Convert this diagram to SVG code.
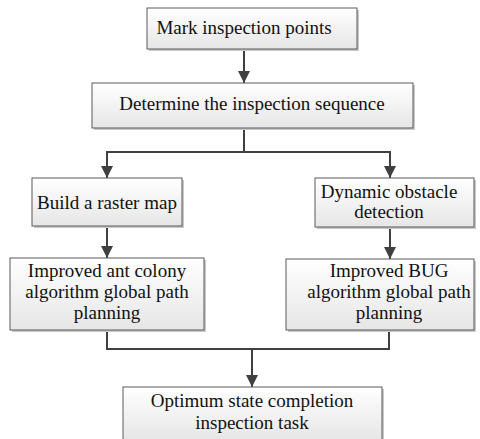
<svg xmlns="http://www.w3.org/2000/svg" width="480" height="439" viewBox="0 0 480 439">
<defs>
<linearGradient id="g" x1="0" y1="0" x2="0" y2="1">
<stop offset="0" stop-color="#ffffff"/>
<stop offset="1" stop-color="#e6e6e6"/>
</linearGradient>
<marker id="arr" markerWidth="12" markerHeight="14" refX="12" refY="6" orient="auto" markerUnits="userSpaceOnUse">
<path d="M0,0 L12,6 L0,12 Z" fill="#404040"/>
</marker>
</defs>
<style>
.box{fill:url(#g);stroke:#5a5a5a;stroke-width:1}
.sh{fill:#c8c8c8}
.t{font-family:'Liberation Serif','Times New Roman',Times,serif;font-size:19px;fill:#111;text-anchor:middle}
.c{fill:none;stroke:#404040;stroke-width:2}
</style>
<g id="connectors">
<path class="c" d="M244,49 V83" marker-end="url(#arr)"/>
<path class="c" d="M244,129 V152 H107 V178" marker-end="url(#arr)"/>
<path class="c" d="M244,152 H390 V178" marker-end="url(#arr)"/>
<path class="c" d="M107,226 V258" marker-end="url(#arr)"/>
<path class="c" d="M390,227 V259" marker-end="url(#arr)"/>
<path class="c" d="M107,330 V349 H389 V330"/>
<path class="c" d="M252,349 V387" marker-end="url(#arr)"/>
</g>
<g id="n1">
<rect class="sh" x="149" y="10" width="210" height="41"/>
<rect class="box" x="147" y="8" width="210" height="41"/>
<text class="t" x="244" y="34">Mark inspection points</text>
</g>
<g id="n2">
<rect class="sh" x="94" y="85" width="321" height="45"/>
<rect class="box" x="92" y="83" width="321" height="45"/>
<text class="t" x="252" y="110">Determine the inspection sequence</text>
</g>
<g id="n3">
<rect class="sh" x="34" y="180" width="150" height="48"/>
<rect class="box" x="32" y="178" width="150" height="48"/>
<text class="t" x="107" y="209">Build a raster map</text>
</g>
<g id="n4">
<rect class="sh" x="317" y="180" width="159" height="49"/>
<rect class="box" x="315" y="178" width="159" height="49"/>
<text class="t" x="389" y="198">Dynamic obstacle</text>
<text class="t" x="389" y="218">detection</text>
</g>
<g id="n5">
<rect class="sh" x="12" y="260" width="194" height="72"/>
<rect class="box" x="10" y="258" width="194" height="72"/>
<text class="t" x="107" y="277">Improved ant colony</text>
<text class="t" x="107" y="298">algorithm global path</text>
<text class="t" x="107" y="319">planning</text>
</g>
<g id="n6">
<rect class="sh" x="288" y="261" width="188" height="71"/>
<rect class="box" x="286" y="259" width="188" height="71"/>
<text class="t" x="389" y="277">Improved BUG</text>
<text class="t" x="389" y="298">algorithm global path</text>
<text class="t" x="389" y="319">planning</text>
</g>
<g id="n7">
<rect class="sh" x="125" y="389" width="259" height="52"/>
<rect class="box" x="123" y="387" width="259" height="53"/>
<text class="t" x="252" y="407">Optimum state completion</text>
<text class="t" x="252" y="429">inspection task</text>
</g>
</svg>
